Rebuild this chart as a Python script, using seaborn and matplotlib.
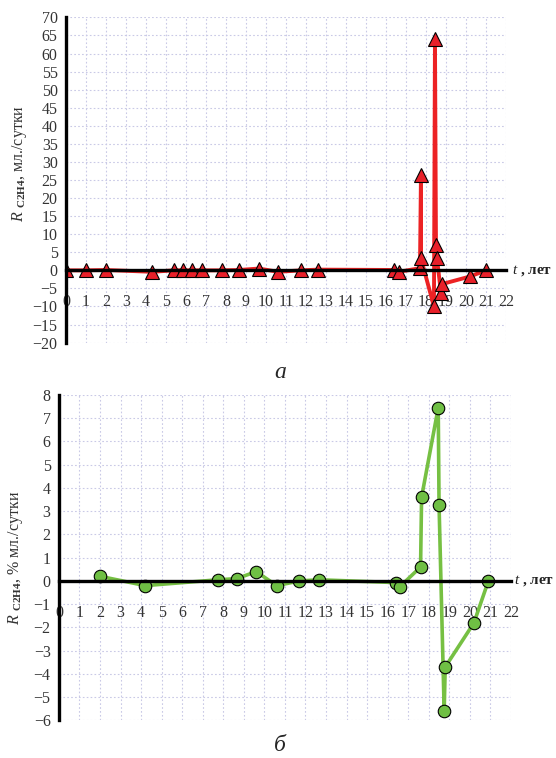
import pandas as pd
import numpy as np
import matplotlib
matplotlib.use("Agg")
import matplotlib.pyplot as plt
import seaborn as sns

# chart a: R C2H4, мл./сутки
t_a = [0, 1.0, 2.0, 4.3, 5.4, 5.85, 6.3, 6.8, 7.8, 8.65, 9.65, 10.6, 11.75, 12.6,
       16.4, 16.65, 17.7, 17.75, 17.75, 18.4, 18.45, 18.5, 18.55, 18.75, 18.8, 20.2, 21.0]
r_a = [0, 0, 0.1, -0.4, 0, 0, 0, 0, 0, 0.1, 0.5, -0.4, 0, 0.2,
       0.1, -0.4, 0.6, 26.5, 3.3, -10, 64, 7.0, 3.3, -6.2, -3.8, -1.7, 0]

# chart b: R C2H4, % мл./сутки
t_b = [2.0, 4.2, 7.75, 8.65, 9.6, 10.6, 11.7, 12.65, 16.4, 16.6, 17.6, 17.65,
       18.46, 18.5, 18.75, 18.8, 20.2, 20.9]
r_b = [0.2, -0.2, 0.05, 0.1, 0.4, -0.2, 0, 0.05, -0.07, -0.24, 0.6, 3.6,
       7.45, 3.27, -5.6, -3.7, -1.8, 0]

x_ticks = list(range(0, 23))
y_ticks_a = list(range(-20, 71, 5))
y_ticks_b = list(range(-6, 9, 1))

sns.set_theme(style="white")
plt.rcParams['font.family'] = ['Liberation Serif', 'DejaVu Serif']
plt.rcParams['mathtext.fontset'] = 'custom'
plt.rcParams['mathtext.rm'] = 'Liberation Serif'
plt.rcParams['mathtext.it'] = 'Liberation Serif:italic'
plt.rcParams['mathtext.bf'] = 'Liberation Serif:bold'

fig = plt.figure(figsize=(5.56, 7.58), dpi=100)
ax1 = fig.add_axes([0.1187, 0.548, 0.7913, 0.429])
ax2 = fig.add_axes([0.106, 0.0495, 0.813, 0.4295])


def style_axis(ax, yticks, ylim, ylabel, label_x, label_y, t_x):
    ax.set_xlim(0, 22)
    ax.set_ylim(*ylim)
    ax.set_xticks(x_ticks)
    ax.set_yticks(yticks)
    ax.grid(True, color='#c9c9e6', linestyle=(0, (1.5, 2)), linewidth=0.8)
    ax.set_axisbelow(True)
    for s in ['top', 'right']:
        ax.spines[s].set_visible(False)
    ax.spines['bottom'].set_position(('data', 0))
    ax.spines['bottom'].set_linewidth(2.4)
    ax.spines['left'].set_linewidth(2.4)
    ax.spines['bottom'].set_color('black')
    ax.spines['left'].set_color('black')
    ax.tick_params(axis='x', direction='out', length=4, width=2.2, color='black',
                   pad=13, labelsize=11.5, labelcolor='#333333')
    ax.tick_params(axis='y', direction='out', length=4, width=2.2, color='black',
                   pad=2, labelsize=11.5, labelcolor='#333333')
    ax.set_xlabel('')
    ax.set_ylabel(ylabel, fontsize=11.5, color='#333333')
    ax.yaxis.set_label_coords(label_x, label_y)
    ax.text(t_x, -ylim[0] / (ylim[1] - ylim[0]), r'$\mathbf{\mathit{t}}$ , лет',
            transform=ax.transAxes, ha='left', va='center', fontsize=11,
            fontweight='bold', color='#222222')


df_a = pd.DataFrame({'t': t_a, 'r': r_a})
df_b = pd.DataFrame({'t': t_b, 'r': r_b})

sns.lineplot(data=df_a, x='t', y='r', ax=ax1, sort=False, estimator=None,
             color='#ec2224', linewidth=2.8, marker='^', markersize=10.5,
             markerfacecolor='#e8202a', markeredgecolor='black', markeredgewidth=0.8)
sns.lineplot(data=df_b, x='t', y='r', ax=ax2, sort=False, estimator=None,
             color='#76c043', linewidth=2.6, marker='o', markersize=9,
             markerfacecolor='#6fbf44', markeredgecolor='black', markeredgewidth=0.8)

style_axis(ax1, y_ticks_a, (-20, 70), r'$\mathit{R}$ $_{\mathbf{C2H4}}$, мл./сутки',
           -0.085, 0.55, 1.014)
style_axis(ax2, y_ticks_b, (-6, 8), r'$\mathit{R}$ $_{\mathbf{C2H4}}$, % мл./сутки',
           -0.075, 0.5, 1.006)

fig.text(0.504, 0.508, 'а', ha='center', va='center', fontsize=17, style='italic')
fig.text(0.504, 0.017, 'б', ha='center', va='center', fontsize=17, style='italic')

fig.savefig('out.png', dpi=100)
